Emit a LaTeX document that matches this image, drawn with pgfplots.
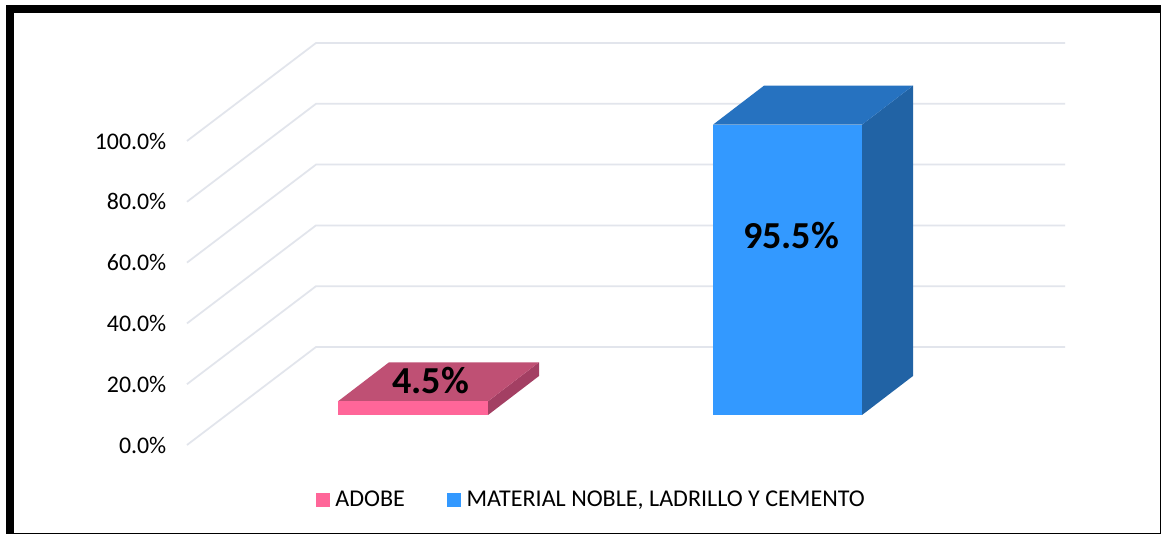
\documentclass[border=0pt]{standalone}
\usepackage{pgfplots}
\pgfplotsset{compat=1.18}
\usepackage{fontspec}
\setmainfont{Carlito}
\definecolor{gridc}{HTML}{E2E5EC}
\definecolor{pinkF}{HTML}{FF6699}
\definecolor{pinkT}{HTML}{BF5074}
\definecolor{pinkS}{HTML}{A33F63}
\definecolor{blueF}{HTML}{3399FF}
\definecolor{blueT}{HTML}{2672C0}
\definecolor{blueS}{HTML}{2163A5}
\begin{document}
\begin{tikzpicture}[x=1pt,y=1pt]
% page = 1161 x 535 px at 0.75 pt/px; origin = pixel (187,445)
\useasboundingbox (-140.25pt,-67.5pt) rectangle (730.5pt,333.75pt);
\fill[white] (-140.25pt,-67.5pt) rectangle (730.5pt,333.75pt);
\fill[black] (-135.75pt,-67.0pt) rectangle (730.5pt,330pt);
\fill[white] (-129.75pt,-66.0pt) rectangle (729.4pt,324pt);
\begin{axis}[
  scale only axis,
  width=658.5pt, height=228pt,
  xmin=187, xmax=1065, ymin=0, ymax=100,
  clip=false,
  axis line style={draw=none},
  xtick=\empty,
  ytick={0,20,40,60,80,100},
  yticklabels={0.0\%,20.0\%,40.0\%,60.0\%,80.0\%,100.0\%},
  ytick style={draw=none},
  y tick label style={font=\fontsize{17.9pt}{20pt}\selectfont, xshift=-12pt},
  legend style={draw=none, fill=none, at={(axis cs:316,-18.1)}, anchor=west,
    font=\fontsize{18.05pt}{20pt}\selectfont, inner sep=0pt, outer sep=0pt,
    /tikz/every even column/.append style={column sep=29.6pt}},
  legend columns=2,
  legend image code/.code={\fill[#1,draw=none] (0pt,-5.25pt) rectangle (10.5pt,5.25pt); \path (12.4pt,0pt);},
]
% back-wall grid: level, then level + depth
\pgfplotsset{grid line/.style={color=gridc, line width=1.3pt, forget plot}}
\addplot[grid line] coordinates {(187,0)(316,32.24)(1065,32.24)};
\addplot[grid line] coordinates {(187,20)(316,52.24)(1065,52.24)};
\addplot[grid line] coordinates {(187,40)(316,72.24)(1065,72.24)};
\addplot[grid line] coordinates {(187,60)(316,92.24)(1065,92.24)};
\addplot[grid line] coordinates {(187,80)(316,112.24)(1065,112.24)};
\addplot[grid line] coordinates {(187,100)(316,132.24)(1065,132.24)};
% bars: value from 0, raised by the floor offset (30 px)
\pgfplotsset{bar face/.style={draw=none, forget plot, yshift=22.5pt}}
% ADOBE 4.5
\addplot[bar face, fill=pinkS] coordinates {(488,0)(539,12.83)(539,17.33)(488,4.5)} -- cycle;
\addplot[bar face, fill=pinkT] coordinates {(338,4.5)(488,4.5)(539,17.33)(389,17.33)} -- cycle;
\addplot[bar face, fill=pinkF] coordinates {(338,0)(488,0)(488,4.5)(338,4.5)} -- cycle;
% MATERIAL NOBLE 95.5
\addplot[bar face, fill=blueS] coordinates {(862,0)(913,12.83)(913,108.33)(862,95.5)} -- cycle;
\addplot[bar face, fill=blueT] coordinates {(713,95.5)(862,95.5)(913,108.33)(764,108.33)} -- cycle;
\addplot[bar face, fill=blueF] coordinates {(713,0)(862,0)(862,95.5)(713,95.5)} -- cycle;
\addlegendimage{fill=pinkF}
\addlegendentry{ADOBE}
\addlegendimage{fill=blueF}
\addlegendentry{MATERIAL NOBLE, LADRILLO Y CEMENTO}
\node[font=\bfseries\fontsize{28.6pt}{30pt}\selectfont] at (axis cs:430.5,21.05) {4.5\%};
\node[font=\bfseries\fontsize{28.6pt}{30pt}\selectfont] at (axis cs:791,68.75) {95.5\%};
\end{axis}
\end{tikzpicture}
\end{document}
